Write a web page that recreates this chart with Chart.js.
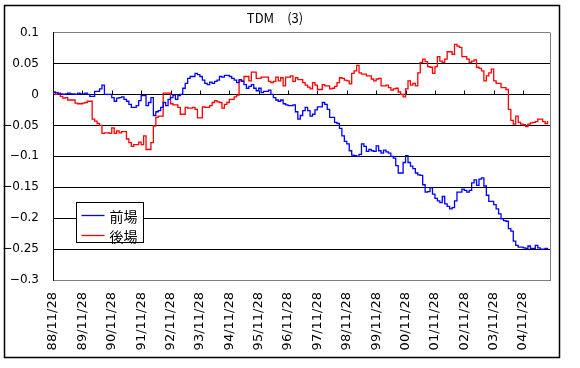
<!DOCTYPE html>
<html>
<head>
<meta charset="utf-8">
<script src="https://cdn.jsdelivr.net/npm/chart.js@4/dist/chart.umd.min.js"></script>
<style>
    html, body { margin: 0; padding: 0; background: #fff; }
    canvas { display: block; }
</style>
</head>
<body>
<canvas id="graficoTDM" width="580" height="368"></canvas>
<script>
const titulo = "TDM　(3)";
const nomes = ["前場", "後場"];
const cores = ["#0000ff", "#ff0000"];

// one label every 12 months, first month = 88/11
const rotulosX = ["88/11/28", "89/11/28", "90/11/28", "91/11/28", "92/11/28", "93/11/28",
    "94/11/28", "95/11/28", "96/11/28", "97/11/28", "98/11/28", "99/11/28",
    "00/11/28", "01/11/28", "02/11/28", "03/11/28", "04/11/28"];
const mesesPorRotulo = 12;
const yMin = -0.3, yMax = 0.1, yPasso = 0.05;

// 前場, monthly
const zenba = [
    0.004, 0.003, 0.001, 0.001, 0.000, 0.001, 0.002, 0.001, 0.001, 0.000,
    0.002, 0.001, 0.001, 0.002, 0.000, -0.003, -0.003, 0.005, 0.005, 0.009,
    0.015, 0.000, 0.000, 0.000, -0.005, -0.011, -0.006, -0.005, -0.004, -0.008,
    -0.011, -0.016, -0.021, -0.021, -0.018, -0.010, -0.002, -0.002, -0.018, -0.013,
    -0.005, -0.034, -0.028, -0.026, -0.021, -0.013, -0.018, -0.008, -0.005, -0.001,
    -0.008, -0.002, 0.000, 0.010, 0.018, 0.026, 0.029, 0.029, 0.034, 0.032,
    0.029, 0.023, 0.018, 0.016, 0.020, 0.018, 0.021, 0.023, 0.029, 0.028,
    0.031, 0.031, 0.029, 0.026, 0.023, 0.019, 0.024, 0.021, 0.016, 0.010,
    0.013, 0.016, 0.010, 0.006, 0.010, 0.003, 0.005, 0.005, 0.007, 0.000,
    -0.005, -0.009, -0.011, -0.009, -0.015, -0.017, -0.018, -0.018, -0.017, -0.028,
    -0.040, -0.034, -0.026, -0.021, -0.026, -0.035, -0.032, -0.025, -0.020, -0.020,
    -0.013, -0.016, -0.024, -0.037, -0.037, -0.045, -0.047, -0.055, -0.067, -0.076,
    -0.080, -0.091, -0.098, -0.099, -0.100, -0.097, -0.080, -0.084, -0.092, -0.089,
    -0.091, -0.092, -0.083, -0.091, -0.095, -0.090, -0.093, -0.095, -0.100, -0.103,
    -0.115, -0.127, -0.127, -0.110, -0.099, -0.110, -0.116, -0.120, -0.127, -0.130,
    -0.131, -0.146, -0.158, -0.157, -0.151, -0.161, -0.168, -0.172, -0.175, -0.165,
    -0.177, -0.181, -0.185, -0.183, -0.172, -0.158, -0.158, -0.153, -0.155, -0.158,
    -0.155, -0.143, -0.138, -0.147, -0.137, -0.135, -0.148, -0.163, -0.173, -0.173,
    -0.178, -0.185, -0.193, -0.201, -0.204, -0.205, -0.217, -0.221, -0.237, -0.244,
    -0.247, -0.247, -0.248, -0.249, -0.245, -0.249, -0.249, -0.244, -0.248, -0.250,
    -0.250, -0.249, -0.250
];

// 後場, monthly
const goba = [
    0.003, 0.000, 0.002, -0.003, -0.006, -0.005, -0.009, -0.009, -0.009, -0.014,
    -0.015, -0.015, -0.014, -0.013, -0.011, -0.011, -0.040, -0.043, -0.047, -0.050,
    -0.063, -0.062, -0.062, -0.063, -0.054, -0.063, -0.059, -0.062, -0.060, -0.060,
    -0.072, -0.078, -0.084, -0.081, -0.081, -0.077, -0.081, -0.067, -0.089, -0.089,
    -0.078, -0.051, -0.037, -0.035, -0.035, 0.002, 0.002, 0.002, -0.015, -0.017,
    -0.017, -0.021, -0.032, -0.032, -0.021, -0.022, -0.022, -0.021, -0.024, -0.038,
    -0.038, -0.020, -0.021, -0.021, -0.018, -0.013, -0.010, -0.012, -0.013, -0.022,
    -0.016, -0.013, -0.008, -0.008, -0.004, -0.001, 0.022, 0.022, 0.029, 0.029,
    0.022, 0.036, 0.036, 0.026, 0.026, 0.028, 0.028, 0.028, 0.021, 0.019,
    0.021, 0.028, 0.022, 0.027, 0.014, 0.028, 0.028, 0.030, 0.021, 0.027,
    0.024, 0.024, 0.019, 0.015, 0.012, 0.009, 0.019, 0.015, 0.008, 0.008,
    0.016, 0.014, 0.014, 0.009, 0.010, 0.013, 0.019, 0.027, 0.026, 0.023,
    0.022, 0.017, 0.034, 0.038, 0.047, 0.035, 0.033, 0.033, 0.030, 0.030,
    0.025, 0.022, 0.025, 0.026, 0.014, 0.014, 0.015, 0.011, 0.007, 0.009,
    0.010, 0.004, 0.000, -0.004, 0.009, 0.022, 0.015, 0.018, 0.014, 0.035,
    0.052, 0.057, 0.053, 0.045, 0.044, 0.034, 0.045, 0.061, 0.054, 0.052,
    0.057, 0.069, 0.069, 0.065, 0.081, 0.078, 0.076, 0.061, 0.061, 0.057,
    0.052, 0.054, 0.056, 0.044, 0.042, 0.038, 0.022, 0.030, 0.035, 0.041,
    0.022, 0.018, 0.018, 0.011, 0.011, 0.008, -0.024, -0.042, -0.048, -0.035,
    -0.045, -0.048, -0.049, -0.052, -0.048, -0.046, -0.045, -0.044, -0.040, -0.040,
    -0.044, -0.047, -0.043
];

const serie = (valores) => valores.map((v, i) => ({ x: i, y: v }));

// outer frame, plot border and the little ticks on the zero line
const molduraPlugin = {
    id: "moldura",
    beforeDraw(chart) {
        const { ctx } = chart;
        ctx.save();
        ctx.fillStyle = "#fff";
        ctx.fillRect(0, 0, chart.width, chart.height);
        ctx.restore();
    },
    beforeDatasetsDraw(chart) {
        const { ctx, chartArea: a, scales: { x, y } } = chart;
        ctx.save();
        ctx.strokeStyle = "#808080";
        ctx.lineWidth = 1;
        ctx.beginPath();
        ctx.moveTo(Math.round(a.right) + 0.5, a.top);
        ctx.lineTo(Math.round(a.right) + 0.5, a.bottom);
        ctx.stroke();
        const y0 = Math.round(y.getPixelForValue(0)) + 0.5;
        ctx.strokeStyle = "#000";
        x.ticks.forEach(t => {
            const px = Math.round(x.getPixelForValue(t.value)) + 0.5;
            ctx.beginPath();
            ctx.moveTo(px, y0 - 4);
            ctx.lineTo(px, y0);
            ctx.stroke();
        });
        ctx.restore();
    },
    afterDraw(chart) {
        const { ctx } = chart;
        ctx.save();
        ctx.strokeStyle = "#000";
        ctx.lineWidth = 1.5;
        ctx.strokeRect(4.5, 5.5, 555, 352);
        ctx.restore();
    }
};

// legend box inside the plot, lower left
const legendaPlugin = {
    id: "legenda",
    afterDraw(chart) {
        const { ctx, chartArea: a } = chart;
        const bx = Math.round(a.left) + 23.5, by = Math.round(a.top) + 169.5;
        ctx.save();
        ctx.fillStyle = "#fff";
        ctx.fillRect(bx, by, 67, 40);
        ctx.strokeStyle = "#000";
        ctx.lineWidth = 1;
        ctx.strokeRect(bx, by, 67, 40);
        ctx.font = '14px "Noto Sans CJK JP"';
        ctx.textBaseline = "middle";
        chart.data.datasets.forEach((ds, i) => {
            const ly = by + 13 + i * 20;
            ctx.strokeStyle = ds.borderColor;
            ctx.lineWidth = 1.3;
            ctx.beginPath();
            ctx.moveTo(bx + 5, ly);
            ctx.lineTo(bx + 28, ly);
            ctx.stroke();
            ctx.fillStyle = "#000";
            ctx.fillText(ds.label, bx + 33, ly + 1);
        });
        ctx.restore();
    }
};

new Chart(document.getElementById("graficoTDM"), {
    type: "line",
    data: {
        datasets: [
            { label: nomes[0], data: serie(zenba), borderColor: cores[0], borderWidth: 1.3, stepped: true, pointRadius: 0 },
            { label: nomes[1], data: serie(goba), borderColor: cores[1], borderWidth: 1.3, stepped: true, pointRadius: 0 }
        ]
    },
    options: {
        responsive: false,
        animation: false,
        devicePixelRatio: 1,
        layout: { padding: { left: 0, right: 30, top: 0, bottom: 0 } },
        plugins: {
            legend: { display: false },
            tooltip: { enabled: false },
            title: {
                display: true,
                text: titulo,
                color: "#000",
                font: { family: '"Noto Sans CJK JP"', size: 13, weight: "normal" },
                padding: { top: 10, bottom: 7 }
            }
        },
        scales: {
            x: {
                type: "linear",
                min: 0,
                max: 203,
                grid: { display: false, drawTicks: false },
                border: { display: true, color: "#808080" },
                afterBuildTicks: (scale) => {
                    scale.ticks = rotulosX.map((_, i) => ({ value: i * mesesPorRotulo }));
                },
                afterFit: (scale) => { scale.height = 88; },
                ticks: {
                    autoSkip: false,
                    minRotation: 90,
                    maxRotation: 90,
                    padding: 12,
                    color: "#000",
                    font: { family: '"DejaVu Sans"', size: 13 },
                    callback: (v) => rotulosX[Math.round(v / mesesPorRotulo)]
                }
            },
            y: {
                min: yMin,
                max: yMax,
                grid: {
                    drawTicks: false,
                    color: (c) => (c.tick && (Math.abs(c.tick.value - yMax) < 1e-6 || Math.abs(c.tick.value - yMin) < 1e-6)) ? "#808080" : "#000"
                },
                border: { display: true, color: "#000" },
                afterFit: (scale) => { scale.width = 53; },
                ticks: {
                    stepSize: yPasso,
                    padding: 14,
                    color: "#000",
                    font: { family: '"DejaVu Sans"', size: 12 },
                    callback: (v) => String(Math.round(v * 100) / 100).replace("-", "−")
                }
            }
        }
    },
    plugins: [molduraPlugin, legendaPlugin]
});
</script>
</body>
</html>
